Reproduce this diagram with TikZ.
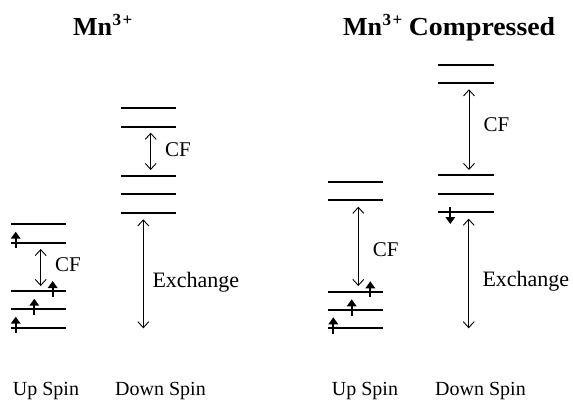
\documentclass[tikz,border=0pt]{standalone}
\usepackage{fontspec}
\setmainfont{Liberation Serif}
\usetikzlibrary{arrows.meta}
\newcommand{\mnsup}{\raisebox{9.5pt}{\fontsize{17}{17}\selectfont\kern0.5pt 3\kern1.5pt+}}
\begin{document}
\begin{tikzpicture}[x=1pt,y=-1pt,
  level/.style={line width=1.9pt},
  gap/.style={line width=0.9pt,{Straight Barb[length=6pt,width=11pt]}-{Straight Barb[length=6pt,width=11pt]}},
  spin/.style={line width=1.7pt,-{Triangle[length=7pt,width=9.5pt]}},
  lab/.style={inner sep=0pt,anchor=base west,font=\fontsize{21}{25}\selectfont},
  exlab/.style={lab,font=\fontsize{22}{26}\selectfont},
  spinlab/.style={lab,font=\fontsize{20}{24}\selectfont},
  ttl/.style={inner sep=0pt,anchor=base west,font=\fontsize{26}{30}\selectfont\bfseries}]
\useasboundingbox (0,0) rectangle (573,400);
% titles
\node[ttl] (t1) at (73,35) {Mn\mnsup};
\node[ttl] (t2) at (343,35) {Mn\mnsup\ \scalebox{1.07}[1]{Compressed}};
% levels, panel 1 up spin
\foreach \n/\y in {1/224,2/242.7,3/291,4/309.3,5/327.7}
  \draw[level] (11,\y) coordinate (pa\n L) -- (66,\y) coordinate (pa\n R);
% panel 1 down spin
\foreach \n/\y in {1/108.3,2/126.7,3/176,4/194.3,5/212.7}
  \draw[level] (121,\y) coordinate (pb\n L) -- (176,\y) coordinate (pb\n R);
% panel 2 up spin
\foreach \n/\y in {1/182,2/200.3,3/292,4/310.3,5/328.3}
  \draw[level] (328,\y) coordinate (pc\n L) -- (383,\y) coordinate (pc\n R);
% panel 2 down spin
\foreach \n/\y in {1/65,2/83.3,3/175.3,4/193.7,5/212}
  \draw[level] (438,\y) coordinate (pd\n L) -- (493.5,\y) coordinate (pd\n R);
% gap arrows
\coordinate (cfa1) at (40.7,249);  \coordinate (cfa2) at (40.7,286);
\coordinate (cfb1) at (150.7,132.7); \coordinate (cfb2) at (150.7,170);
\coordinate (exb1) at (143.3,219.3); \coordinate (exb2) at (143.3,328.3);
\coordinate (cfc1) at (358.3,206.7); \coordinate (cfc2) at (358.3,286);
\coordinate (cfd1) at (469,89.3); \coordinate (cfd2) at (469,170);
\coordinate (exd1) at (468.7,218.7); \coordinate (exd2) at (468.7,328.3);
\draw[gap] (cfa1) -- (cfa2);
\draw[gap] (cfb1) -- (cfb2);
\draw[gap] (exb1) -- (exb2);
\draw[gap] (cfc1) -- (cfc2);
\draw[gap] (cfd1) -- (cfd2);
\draw[gap] (exd1) -- (exd2);
% spin arrows
\coordinate (sa1) at (15.7,247.7); \coordinate (sa1t) at (15.7,231.7);
\coordinate (sa2) at (52.7,296.7); \coordinate (sa2t) at (52.7,281);
\coordinate (sa3) at (34.3,315);   \coordinate (sa3t) at (34.3,298.7);
\coordinate (sa4) at (15.7,332.7); \coordinate (sa4t) at (15.7,316.7);
\coordinate (sc1) at (370.3,297.3); \coordinate (sc1t) at (370.3,281.3);
\coordinate (sc2) at (351.7,316);   \coordinate (sc2t) at (351.7,299.3);
\coordinate (sc3) at (333.3,334);   \coordinate (sc3t) at (333.3,317.3);
\coordinate (sd1) at (450.3,207.3); \coordinate (sd1t) at (450.3,224);
\foreach \s in {sa1,sa2,sa3,sa4,sc1,sc2,sc3,sd1}
  \draw[spin] (\s) -- (\s t);
% labels
\node[lab] (la) at (55,271.7) {CF};
\node[lab] (lb) at (165,156.7) {CF};
\node[exlab] (lx1) at (152.3,287) {Exchange};
\node[lab] (lc) at (372.7,256.7) {CF};
\node[lab] (ld) at (483.3,131.7) {CF};
\node[exlab] (lx2) at (482.3,286) {Exchange};
% bottom labels
\node[spinlab] (b1) at (12.7,395) {Up Spin};
\node[spinlab] (b2) at (115,395) {Down Spin};
\node[spinlab] (b3) at (331.7,395) {Up Spin};
\node[spinlab] (b4) at (435,395) {Down Spin};
\end{tikzpicture}
\end{document}
